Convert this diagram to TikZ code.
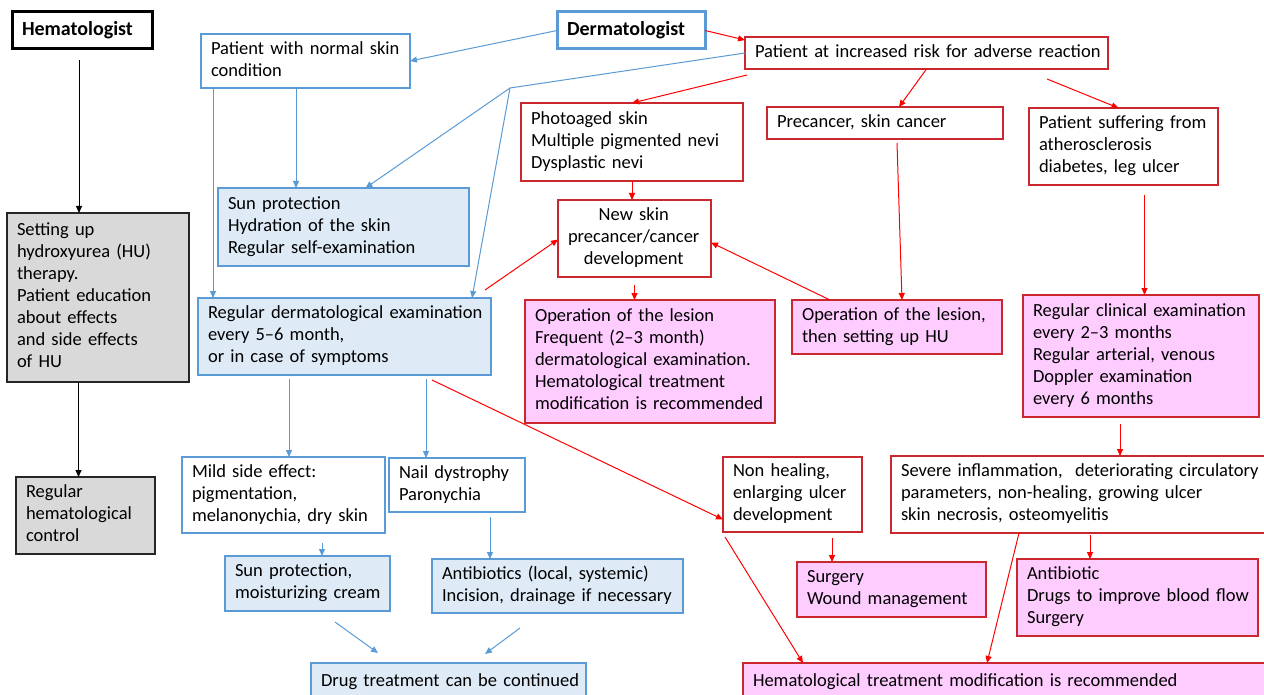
\documentclass[tikz,border=0pt]{standalone}
\usepackage{fontspec}
\setmainfont{Carlito}
\usetikzlibrary{arrows.meta}
\definecolor{bl}{HTML}{5B9BD5}
\definecolor{blfill}{HTML}{DEEBF7}
\definecolor{rd}{HTML}{FF0000}
\definecolor{rdbox}{HTML}{C8282E}
\definecolor{pk}{HTML}{FFCCFF}
\definecolor{gr}{HTML}{D9D9D9}
\newcommand\bx[8]{%
 \pgfmathsetmacro\tw{#4-20}%
 \node[#6, minimum width=#4pt, minimum height=#5pt, text width=\tw pt, anchor=north west] (#1) at (#2,#3) {\noindent\begin{tabular}{@{}#7@{}}#8\end{tabular}};}
\tikzset{
 box/.style={draw, line width=1.3pt, inner xsep=10pt, inner ysep=0pt, outer sep=0pt, font=\fontsize{18.5}{22}\selectfont},
 bbox/.style={box, draw=bl, fill=white},
 bfbox/.style={box, draw=bl, fill=blfill},
 rbox/.style={box, draw=rdbox, fill=white},
 pbox/.style={box, draw=rdbox, fill=pk},
 gbox/.style={box, draw=black!85, fill=gr},
 headk/.style={box, draw=black, line width=3pt, font=\fontsize{20}{24}\selectfont\bfseries},
 headb/.style={box, draw=bl, line width=3pt, font=\fontsize{20}{24}\selectfont\bfseries},
 tip/.style={-{Triangle[length=7pt,width=6pt]}},
 barr/.style={draw=bl, line width=1pt, tip},
 bline/.style={draw=bl, line width=1pt},
 rarr/.style={draw=rd, line width=1pt, tip},
 karr/.style={draw=black, line width=1pt, tip}
}
\begin{document}
\begin{tikzpicture}[x=1pt,y=-1pt]
\fill[white] (0,0) rectangle (1264,695);
\useasboundingbox (0,0) rectangle (1264,695);
% nodes
\bx{hem}{12}{12}{140}{37}{headk}{c}{Hematologist}
\bx{pnorm}{201}{34}{209}{54}{bbox}{l}{Patient with normal skin\\condition}
\bx{derm}{557}{12}{148}{37}{headb}{c}{Dermatologist}
\bx{prisk}{745}{37}{363}{32}{rbox}{l}{Patient at increased risk for adverse reaction}
\bx{photo}{521}{103}{222}{78}{rbox}{l}{Photoaged skin\\Multiple pigmented nevi\\Dysplastic nevi}
\bx{precan}{767}{107}{236}{32}{rbox}{l}{Precancer, skin cancer}
\bx{psuff}{1029}{108}{189}{77}{rbox}{l}{Patient suffering from\\atherosclerosis\\diabetes, leg ulcer}
\bx{sunprot}{218}{188}{251}{78}{bfbox}{l}{Sun protection\\Hydration of the skin\\Regular self-examination}
\bx{setup}{7}{213}{182}{169}{gbox}{l}{Setting up\\hydroxyurea (HU)\\therapy.\\Patient education\\about effects\\and side effects\\of HU}
\bx{newskin}{558}{200}{153}{77}{rbox}{c}{New skin\\precancer/cancer\\development}
\bx{regderm}{198}{298}{293}{77}{bfbox}{l}{Regular dermatological examination\\every 5–6 month,\\or in case of symptoms}
\bx{oplesion}{525}{300}{250}{123}{pbox}{l}{Operation of the lesion\\Frequent (2–3 month)\\dermatological examination.\\Hematological treatment\\modification is recommended}
\bx{ophu}{792}{300}{210}{54}{pbox}{l}{Operation of the lesion,\\then setting up HU}
\bx{regclin}{1023}{295}{236}{122}{pbox}{l}{Regular clinical examination\\every 2–3 months\\Regular arterial, venous\\Doppler examination\\every 6 months}
\bx{reghem}{16}{477}{139}{77}{gbox}{l}{Regular\\hematological\\control}
\bx{mild}{182}{457}{203}{76}{bbox}{l}{Mild side effect:\\pigmentation,\\melanonychia, dry skin}
\bx{nail}{389}{458}{136}{54}{bbox}{l}{Nail dystrophy\\Paronychia}
\bx{nonheal}{723}{457}{139}{75}{rbox}{l}{Non healing,\\enlarging ulcer\\development}
\bx{severe}{891}{456}{375}{77}{rbox}{l}{Severe inflammation,\ \ deteriorating circulatory\\parameters, non-healing, growing ulcer\\skin necrosis, osteomyelitis}
\bx{sunmoist}{225}{556}{165}{55}{bfbox}{l}{Sun protection,\\moisturizing cream}
\bx{antib}{432}{559}{251}{54}{bfbox}{l}{Antibiotics (local, systemic)\\Incision, drainage if necessary}
\bx{surgery}{797}{562}{189}{55}{pbox}{l}{Surgery\\Wound management}
\bx{antid}{1017}{559}{241}{77}{pbox}{l}{Antibiotic\\Drugs to improve blood flow\\Surgery}
\bx{drug}{311}{663}{275}{38}{bfbox}{l}{Drug treatment can be continued}
\bx{hemmod}{743}{663}{523}{38}{pbox}{l}{Hematological treatment modification is recommended}
\coordinate (split) at (510,88);
% black connectors
\draw[karr] ([shift={(-3pt,-11pt)}]hem.south) -- ([xshift=-3pt]hem.south |- setup.north);
\draw[karr] ([xshift=-7pt]reghem.north |- setup.south) -- ([xshift=-7pt]reghem.north);
% blue connectors
\draw[barr] (derm.west) -- (pnorm.east);
\draw[bline] (prisk.west) -- (split);
\draw[barr] (split) -- ([xshift=22pt]sunprot.north);
\draw[barr] (split) -- ([xshift=-19pt]regderm.north east);
\draw[barr] ([xshift=12pt]pnorm.south west) -- ([xshift=12pt]pnorm.south west |- regderm.north);
\draw[barr] ([xshift=95pt]pnorm.south west) -- ([xshift=95pt]pnorm.south west |- sunprot.north);
\draw[barr] ([shift={(91pt,-4pt)}]regderm.south west) -- ([xshift=91pt]regderm.south west |- mild.north);
\draw[barr] ([shift={(228pt,-4pt)}]regderm.south west) -- ([xshift=228pt]regderm.south west |- nail.north);
\draw[barr] ([shift={(140pt,-10pt)}]mild.south west) -- ([xshift=140pt]mild.south west |- sunmoist.north);
\draw[barr] ([shift={(101pt,-5pt)}]nail.south west) -- ([xshift=101pt]nail.south west |- antib.north);
\draw[barr] ([shift={(110pt,-11pt)}]sunmoist.south west) -- ([shift={(67pt,10pt)}]drug.north west);
\draw[barr] ([shift={(88pt,-15pt)}]antib.south west) -- ([shift={(174pt,9pt)}]drug.north west);
% red connectors
\draw[rarr] (derm.east) -- ([yshift=-3pt]prisk.north west);
\draw[rarr] ([shift={(2pt,-6pt)}]prisk.south west) -- (photo.north);
\draw[rarr] (prisk.south) -- ([xshift=14pt]precan.north);
\draw[rarr] ([shift={(-61pt,-10pt)}]prisk.south east) -- ([xshift=-5pt]psuff.north);
\draw[rarr] (photo.south) -- (photo.south |- newskin.north);
\draw[rarr] ([shift={(12pt,-4pt)}]precan.south) -- ([xshift=5pt]ophu.north);
\draw[rarr] ([xshift=38pt]ophu.north west) -- ([yshift=-4pt]newskin.east);
\draw[rarr] ([shift={(-6pt,8pt)}]regderm.north east) -- ([yshift=-1pt]newskin.west);
\draw[rarr] ([yshift=-8pt]newskin.south) -- (newskin.south |- oplesion.north);
\draw[rarr] ([shift={(21pt,-10pt)}]psuff.south) -- ([xshift=21pt]psuff.south |- regclin.north);
\draw[rarr] ([shift={(-21pt,-7pt)}]regclin.south) -- ([xshift=-21pt]regclin.south |- severe.north);
\draw[rarr] ([shift={(234pt,-5pt)}]regderm.south west) -- ([yshift=-25pt]nonheal.west);
\draw[rarr] ([shift={(109pt,-6pt)}]nonheal.south west) -- ([xshift=109pt]nonheal.south west |- surgery.north);
\draw[rarr] ([shift={(2pt,-5pt)}]nonheal.south west) -- ([xshift=60pt]hemmod.north west);
\draw[rarr] ([xshift=128pt]severe.south west) -- ([xshift=244pt]hemmod.north west);
\draw[rarr] ([shift={(199pt,-2pt)}]severe.south west) -- ([xshift=199pt]severe.south west |- antid.north);
\end{tikzpicture}
\end{document}
